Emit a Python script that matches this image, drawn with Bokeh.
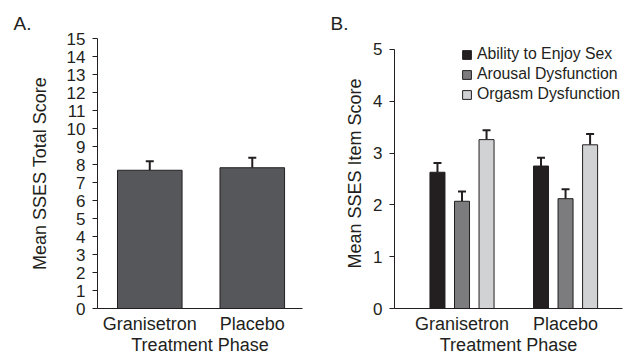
from bokeh.plotting import figure
from bokeh.layouts import row
from bokeh.models import (ColumnDataSource, Range1d, FixedTicker, Whisker, TeeHead,
                          Legend, LegendItem)
from bokeh.embed import file_html
from bokeh.resources import INLINE

# ---- data ----
phases = ["Granisetron", "Placebo"]
phase_pos = [0, 1]
total_mean = [7.68, 7.82]
total_err = [0.50, 0.55]

items = ["Ability to Enjoy Sex", "Arousal Dysfunction", "Orgasm Dysfunction"]
ability_mean = [2.63, 2.75]
ability_err = [0.18, 0.16]
arousal_mean = [2.07, 2.12]
arousal_err = [0.19, 0.18]
orgasm_mean = [3.26, 3.16]
orgasm_err = [0.18, 0.21]

total_ticks = list(range(0, 16))
item_ticks = list(range(0, 6))

FONT = "Liberation Sans"
INK = "#231f20"
A_COLOR = "#56575b"
B_COLORS = ["#231f20", "#7c7c7e", "#d1d2d4"]


def style(p, yticks, ylabel_standoff, panel_label, label_offset):
    p.outline_line_color = None
    p.xgrid.visible = False
    p.ygrid.visible = False
    p.xaxis.ticker = FixedTicker(ticks=phase_pos)
    p.xaxis.major_label_overrides = {pos: name for pos, name in zip(phase_pos, phases)}
    p.yaxis.ticker = FixedTicker(ticks=yticks)
    p.yaxis.bounds = (yticks[0], yticks[-1])
    for ax in (p.xaxis[0], p.yaxis[0]):
        ax.axis_line_color = INK
        ax.axis_line_width = 1
        ax.minor_tick_line_color = None
        ax.major_label_text_font = FONT
        ax.major_label_text_color = INK
        ax.axis_label_text_font = FONT
        ax.axis_label_text_font_style = "normal"
        ax.axis_label_text_color = INK
        ax.axis_label_text_font_size = "18px"
    p.xaxis.major_tick_line_color = None
    p.xaxis.major_tick_out = 0
    p.xaxis.major_tick_in = 0
    p.xaxis.major_label_text_font_size = "18px"
    p.xaxis.major_label_standoff = 5
    p.xaxis.axis_label_standoff = -2
    p.yaxis.major_tick_line_color = INK
    p.yaxis.major_tick_in = 0
    p.yaxis.major_tick_out = 5
    p.yaxis.major_label_text_font_size = "17px"
    p.yaxis.major_label_standoff = 7
    p.yaxis.axis_label_standoff = ylabel_standoff
    p.title.text = panel_label
    p.title.align = "left"
    p.title.offset = label_offset
    p.title.standoff = 10
    p.title.text_font = FONT
    p.title.text_font_size = "19px"
    p.title.text_font_style = "normal"
    p.title.text_color = INK


# ---- Panel A ----
pA = figure(width=312, height=364, output_backend="svg", toolbar_location=None,
            x_range=Range1d(-0.51, 1.49), y_range=Range1d(0, 15),
            min_border_left=97, min_border_right=10, min_border_top=38, min_border_bottom=56,
            x_axis_label="Treatment Phase", y_axis_label="Mean SSES Total Score")
srcA = ColumnDataSource(dict(x=phase_pos, top=total_mean,
                             upper=[m + e for m, e in zip(total_mean, total_err)]))
pA.add_layout(Whisker(source=srcA, base="x", lower="top", upper="upper", dimension="height",
                      line_color=INK, line_width=2, lower_head=None,
                      upper_head=TeeHead(size=8, line_color=INK, line_width=2)))
pA.vbar(x="x", top="top", bottom=0, width=0.63, source=srcA,
        fill_color=A_COLOR, line_color=INK, line_width=1)
style(pA, total_ticks, 14, "A.", -84)

# ---- Panel B ----
pB = figure(width=312, height=364, output_backend="svg", toolbar_location=None,
            x_range=Range1d(-0.652, 1.55), y_range=Range1d(0, 5.212),
            min_border_left=82, min_border_right=2, min_border_top=38, min_border_bottom=56,
            x_axis_label="Treatment Phase", y_axis_label="Mean SSES Item Score")
offsets = [-0.237, 0.0, 0.237]
series = [(ability_mean, ability_err), (arousal_mean, arousal_err), (orgasm_mean, orgasm_err)]
legend_items = []
for name, off, color, (means, errs) in zip(items, offsets, B_COLORS, series):
    src = ColumnDataSource(dict(x=[p + off for p in phase_pos], top=means,
                                upper=[m + e for m, e in zip(means, errs)]))
    pB.add_layout(Whisker(source=src, base="x", lower="top", upper="upper", dimension="height",
                          line_color=INK, line_width=2, lower_head=None,
                          upper_head=TeeHead(size=8, line_color=INK, line_width=2)))
    r = pB.vbar(x="x", top="top", bottom=0, width=0.145, source=src,
                fill_color=color, line_color=INK, line_width=1)
    legend_items.append(LegendItem(label=name, renderers=[r]))
style(pB, item_ticks, 5, "B.", -64)
legend = Legend(items=legend_items, location=(67, 204), padding=0, margin=0,
                border_line_color=None, background_fill_alpha=0,
                glyph_width=11, glyph_height=11, label_height=20, spacing=0,
                label_standoff=5, label_text_font=FONT, label_text_font_size="15.8px",
                label_text_color=INK)
pB.add_layout(legend)

layout = row(pA, pB)
open("out.html", "w").write(file_html(layout, INLINE))
